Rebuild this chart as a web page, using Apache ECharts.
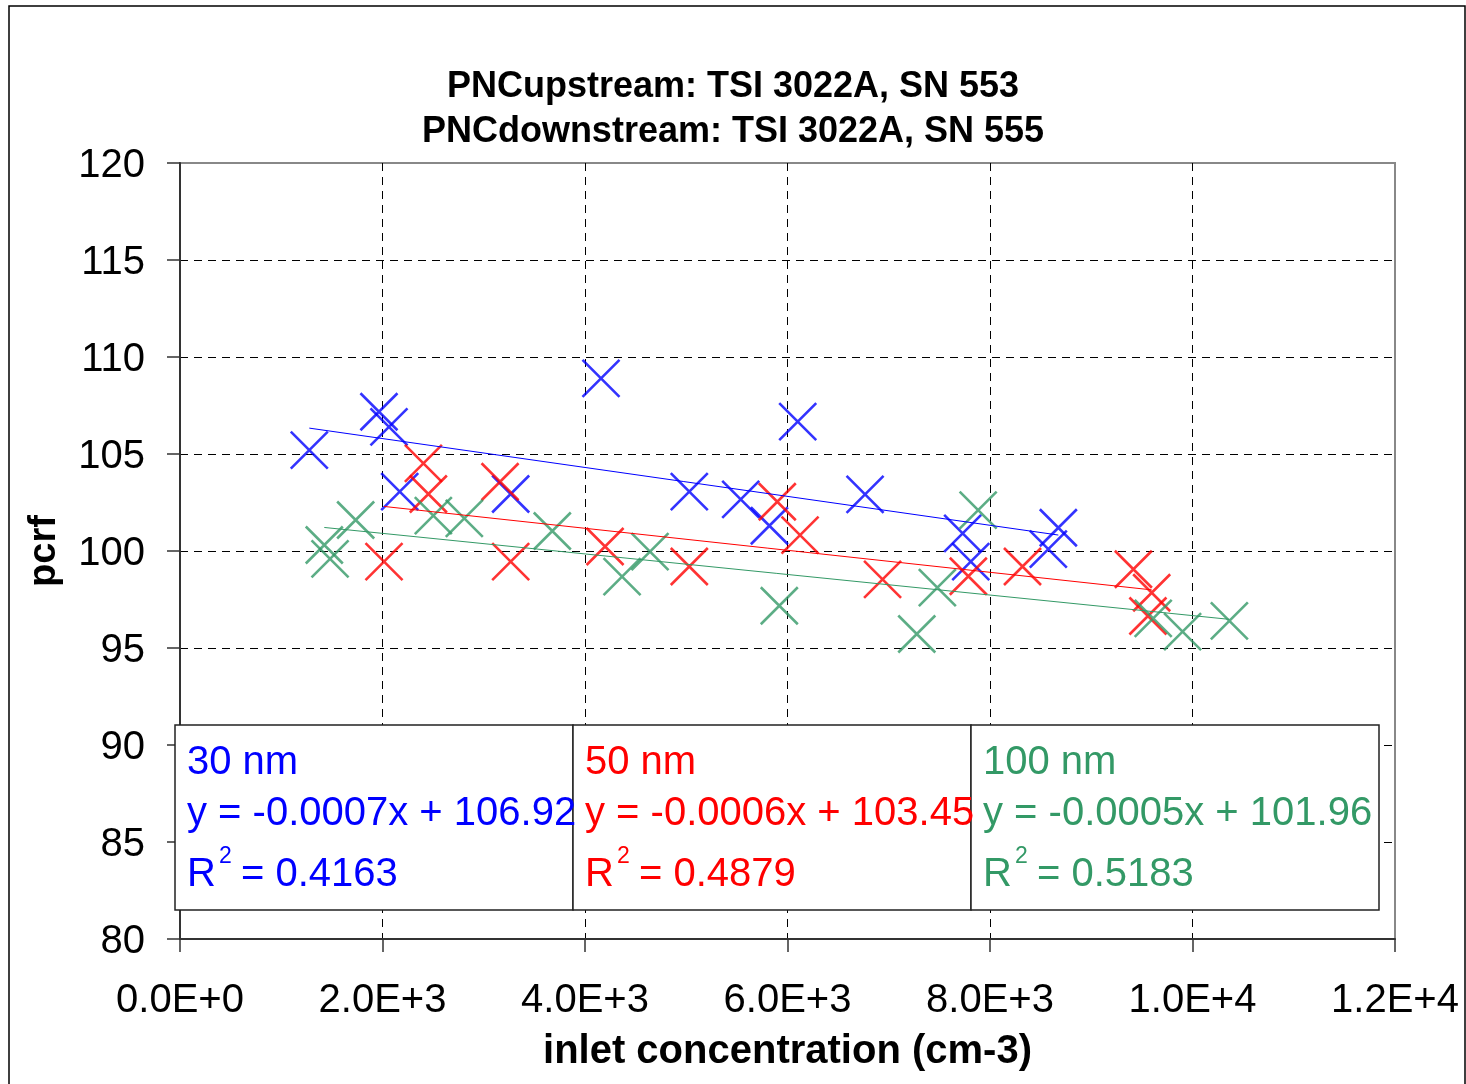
<!DOCTYPE html>
<html lang="en">
<head>
    <meta charset="UTF-8">
    <title>pcrf vs inlet concentration</title>
    <script src="https://cdn.jsdelivr.net/npm/echarts@6/dist/echarts.min.js"></script>
    <style>
        html, body { margin: 0; padding: 0; background: #fff; }
        #chart { width: 1466px; height: 1084px; }
    </style>
</head>
<body>
    <div id="chart"></div>
    <script>
        // data
        const blueX = [1277, 1965, 2064, 2170, 3266, 4158, 5030, 5538, 5821, 6101, 6766, 7730, 7810, 8576, 8675];
        const blueY = [105.2, 107.18, 106.4, 103.06, 102.94, 108.9, 103.06, 102.66, 101.3, 106.67, 102.92, 100.91, 99.45, 100.1, 101.2];

        const redX = [2015, 2404, 2453, 3161, 3266, 4198, 5030, 5899, 6124, 6939, 7786, 8321, 9416, 9597, 9560];
        const redY = [99.45, 104.52, 102.94, 103.57, 99.45, 100.23, 99.2, 102.54, 100.82, 98.54, 98.7, 99.2, 99.06, 97.85, 96.65];

        const greenX = [1425, 1482, 1735, 2502, 2808, 3677, 4366, 4642, 5919, 7277, 7480, 7883, 9612, 9902, 10364];
        const greenY = [100.31, 99.59, 101.6, 101.82, 101.68, 101.03, 98.68, 99.97, 97.18, 95.72, 98.11, 102.11, 96.53, 95.84, 96.4];

        const sizeNames = ['30 nm', '50 nm', '100 nm'];
        const equations = ['y = -0.0007x + 106.92', 'y = -0.0006x + 103.45', 'y = -0.0005x + 101.96'];
        const r2Values = ['0.4163', '0.4879', '0.5183'];
        const colors = ['#0000FF', '#FF0000', '#339966'];

        const FONT = '"Liberation Sans", Arial, sans-serif';
        const crossPath = 'path://M0,0L10,10M10,0L0,10';

        function pairs(xs, ys) {
            return xs.map((x, i) => [x, ys[i]]);
        }

        // least squares trend line, from first to last x
        function trend(xs, ys) {
            const n = xs.length;
            const mx = xs.reduce((a, b) => a + b, 0) / n;
            const my = ys.reduce((a, b) => a + b, 0) / n;
            let sxy = 0, sxx = 0;
            xs.forEach((x, i) => {
                sxy += (x - mx) * (ys[i] - my);
                sxx += (x - mx) * (x - mx);
            });
            const b = sxy / sxx;
            const a = my - b * mx;
            const x0 = Math.min(...xs), x1 = Math.max(...xs);
            return [[x0, a + b * x0], [x1, a + b * x1]];
        }

        const groups = [[blueX, blueY], [redX, redY], [greenX, greenY]];

        const series = [];
        groups.forEach((g, i) => {
            series.push({
                type: 'scatter',
                data: pairs(g[0], g[1]),
                symbol: crossPath,
                symbolSize: 37,
                itemStyle: { color: 'transparent', borderColor: colors[i], borderWidth: 2.6 },
                z: 3
            });
        });
        groups.forEach((g, i) => {
            series.push({
                type: 'line',
                data: trend(g[0], g[1]),
                showSymbol: false,
                lineStyle: { color: colors[i], width: 1 },
                z: 4
            });
        });

        // the three equation boxes
        const boxTop = 725, boxH = 185;
        const boxLeft = [175, 573, 971];
        const boxW = [398, 398, 408];
        const graphics = [{
            type: 'rect',
            shape: { x: 9, y: 6, width: 1456, height: 1100 },
            style: { fill: 'none', stroke: '#000', lineWidth: 1.5 },
            z: 0, silent: true
        }];
        boxLeft.forEach((L, i) => {
            const tx = L + 12;
            const st = (text, x, y, size) => ({
                type: 'text', x: x, y: y, z: 101,
                style: { text: text, fill: colors[i], font: size + 'px ' + FONT, verticalAlign: 'middle' }
            });
            graphics.push({
                type: 'rect', z: 100,
                shape: { x: L, y: boxTop, width: boxW[i], height: boxH },
                style: { fill: '#fff', stroke: '#222', lineWidth: 1.5 }
            });
            graphics.push(st(sizeNames[i], tx, 763, 40));
            graphics.push(st(equations[i], tx, 814, 40));
            graphics.push(st('R', tx, 875, 40));
            graphics.push(st('2', tx + 32, 857, 23));
            graphics.push(st('= ' + r2Values[i], tx + 54, 875, 40));
        });

        const chart = echarts.init(document.getElementById('chart'));
        chart.setOption({
            animation: false,
            backgroundColor: '#fff',
            title: {
                text: 'PNCupstream: TSI 3022A, SN 553\nPNCdownstream: TSI 3022A, SN 555',
                left: 'center',
                top: 60,
                textStyle: { fontFamily: FONT, fontSize: 36, fontWeight: 'bold', color: '#000', lineHeight: 45 }
            },
            grid: {
                left: 180, right: 71, top: 163, bottom: 145,
                show: true, borderColor: '#888', borderWidth: 2
            },
            xAxis: {
                type: 'value',
                min: 0, max: 12000, interval: 2000,
                name: 'inlet concentration (cm-3)',
                nameLocation: 'middle',
                nameGap: 93,
                nameTextStyle: { fontFamily: FONT, fontSize: 40, fontWeight: 'bold', color: '#000' },
                axisLine: { lineStyle: { color: '#333', width: 2 } },
                axisTick: { show: true, length: 13, lineStyle: { color: '#333', width: 1.5 } },
                axisLabel: {
                    fontFamily: FONT, fontSize: 40, color: '#000', margin: 42,
                    formatter: v => v.toExponential(1).replace('e', 'E')
                },
                splitLine: {
                    show: true, showMinLine: false, showMaxLine: false,
                    lineStyle: { color: '#000', type: [8, 6], width: 1 }
                }
            },
            yAxis: {
                type: 'value',
                min: 80, max: 120, interval: 5,
                name: 'pcrf',
                nameLocation: 'middle',
                nameGap: 116,
                nameTextStyle: { fontFamily: FONT, fontSize: 38, fontWeight: 'bold', color: '#000' },
                axisLine: { show: true, lineStyle: { color: '#333', width: 2 } },
                axisTick: { show: true, length: 13, lineStyle: { color: '#333', width: 1.5 } },
                axisLabel: { fontFamily: FONT, fontSize: 40, color: '#000', margin: 35, verticalAlign: 'top', lineHeight: 6 },
                splitLine: {
                    show: true, showMinLine: false, showMaxLine: false,
                    lineStyle: { color: '#000', type: [8, 6], width: 1 }
                }
            },
            series: series,
            graphic: graphics
        });
    </script>
</body>
</html>
